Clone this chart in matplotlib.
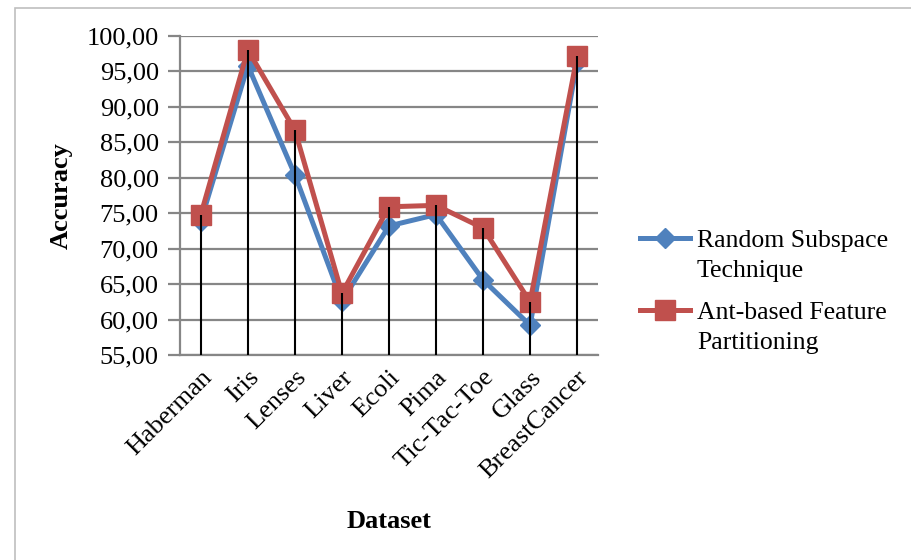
import numpy as np
import matplotlib.pyplot as plt
from matplotlib.lines import Line2D
from matplotlib.patches import Rectangle
from matplotlib.ticker import FuncFormatter

plt.rcParams['font.family'] = ['Liberation Serif', 'DejaVu Serif']

datasets = ['Haberman', 'Iris', 'Lenses', 'Liver', 'Ecoli', 'Pima',
            'Tic-Tac-Toe', 'Glass', 'BreastCancer']
random_subspace = [73.9, 95.8, 80.4, 62.6, 73.2, 74.8, 65.6, 59.2, 96.3]
ant_based = [74.8, 98.0, 86.7, 63.7, 75.9, 76.1, 72.9, 62.5, 97.1]
series_names = ['Random Subspace\nTechnique', 'Ant-based Feature\nPartitioning']

blue = '#4F81BD'
red = '#C0504D'
grid_grey = '#868686'

fig = plt.figure(figsize=(9.12, 5.6), dpi=100)
ax = fig.add_axes([0.197, 0.366, 0.459, 0.570])

# chart area border
fig.patches.append(Rectangle((15 / 912, -0.1), 1.2, 1 - 8 / 560 + 0.1,
                             transform=fig.transFigure, fill=False,
                             edgecolor='#BFBFBF', linewidth=1.2))

x = np.arange(len(datasets))

l1, = ax.plot(x, random_subspace, color=blue, linewidth=3.6, marker='D',
              markersize=10, zorder=3)
l2, = ax.plot(x, ant_based, color=red, linewidth=3.6, marker='s',
              markersize=14, zorder=4)

# drop lines from the higher series down to the axis
tops = np.maximum(random_subspace, ant_based)
ax.vlines(x, 55, tops, color='black', linewidth=1.5, zorder=5)

ax.set_xlim(-0.45, len(datasets) - 0.55)
ax.set_ylim(55, 100)
ax.set_yticks(np.arange(55, 101, 5))
ax.yaxis.set_major_formatter(FuncFormatter(lambda v, p: f'{v:.2f}'.replace('.', ',')))
ax.yaxis.grid(True, color=grid_grey, linewidth=1.6)
ax.set_axisbelow(True)

ax.set_xticks(x)
ax.set_xticklabels(datasets, rotation=45, ha='right', rotation_mode='anchor')

for side in ['top', 'right']:
    ax.spines[side].set_visible(False)
for side in ['left', 'bottom']:
    ax.spines[side].set_color(grid_grey)
    ax.spines[side].set_linewidth(1.6)

ax.tick_params(axis='y', labelsize=19, length=9, width=1.6, color=grid_grey, pad=6)
ax.tick_params(axis='x', labelsize=19, length=0, pad=8)

ax.set_xlabel('Dataset', fontsize=19, fontweight='bold', labelpad=20)
ax.set_ylabel('Accuracy', fontsize=19, fontweight='bold', labelpad=10)

# legend: key sits level with the first line of each two-line label
W, H = 912, 560
for line, name, ypix in zip([l1, l2], series_names, [238, 310]):
    y = 1 - ypix / H
    fig.add_artist(Line2D([640 / W, 690 / W], [y, y], transform=fig.transFigure,
                          color=line.get_color(), linewidth=line.get_linewidth()))
    fig.add_artist(Line2D([665 / W], [y], transform=fig.transFigure,
                          color=line.get_color(), marker=line.get_marker(),
                          markersize=line.get_markersize()))
    fig.text(697 / W, y + 8 / H, name, fontsize=18.5, ha='left', va='top',
             linespacing=1.45)

fig.savefig('out.png', dpi=100)
